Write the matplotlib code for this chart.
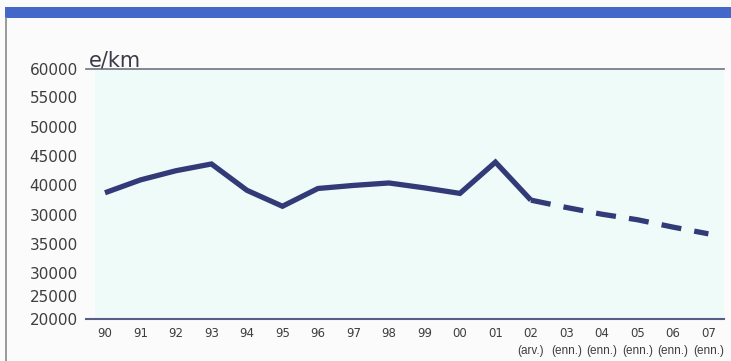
import matplotlib
matplotlib.use("Agg")
import matplotlib.pyplot as plt
from matplotlib.patches import Rectangle
from matplotlib.lines import Line2D
from matplotlib.transforms import blended_transform_factory

# Years and per-km values (e/km); 2002 is preliminary, 2003-2007 are forecasts
years = ["90", "91", "92", "93", "94", "95", "96", "97", "98", "99", "00", "01",
         "02", "03", "04", "05", "06", "07"]
notes = ["", "", "", "", "", "", "", "", "", "", "", "",
         "(arv.)", "(enn.)", "(enn.)", "(enn.)", "(enn.)", "(enn.)"]
actual = [40600, 42700, 44200, 45300, 41000, 38400, 41300, 41800, 42200, 41400,
          40500, 45600, 39400]
forecast = [39400, 38200, 37100, 36200, 35000, 33900]

ytick_labels = ["60000", "55000", "50000", "45000", "40000", "30000", "35000",
                "30000", "25000", "20000"]
ytick_pos = [60800, 56200, 51400, 46600, 41800, 37000, 32300, 27500, 23700, 20000]

W, H = 731, 361
fig = plt.figure(figsize=(W / 100, H / 100), dpi=100, facecolor="#fbfbfb")

def fx(px):
    return px / W

def fy(py):
    return 1 - py / H

# header band and frame
fig.add_artist(Rectangle((fx(5), fy(18)), fx(726), 11 / H, transform=fig.transFigure,
                         facecolor="#4468c9", edgecolor="none"))
fig.add_artist(Line2D([fx(6), fx(6)], [fy(18), 0], transform=fig.transFigure,
                      color="#8a8a8a", lw=1.2))

ax = fig.add_axes([fx(86), fy(319), fx(724) - fx(86), (319 - 69) / H])
ax.set_facecolor("none")
x_all = list(range(len(years)))
ax.set_xlim(-0.535, 17.44)
ax.set_ylim(20000, 60000)

# light tinted plotting area
ax.axvspan(-0.28, 17.44, color="#effbf8", zorder=0, lw=0)

n_act = len(actual)
ax.plot(x_all[:n_act], actual, color="#323a78", lw=3.8,
        solid_joinstyle="miter", solid_capstyle="butt", zorder=3)
ax.plot(x_all[n_act - 1:], forecast, color="#323a78", lw=3.8,
        linestyle=(0, (3.8, 2.5)), dash_capstyle="butt", zorder=3)

for s in ["left", "right"]:
    ax.spines[s].set_visible(False)
ax.spines["bottom"].set_color("#5a5c88")
ax.spines["bottom"].set_linewidth(1.5)
ax.spines["top"].set_color("#6f7482")
ax.spines["top"].set_linewidth(1.2)

ax.set_yticks(ytick_pos)
ax.set_yticklabels(ytick_labels, fontsize=11, color="#3e3e3e")
ax.tick_params(axis="y", length=0, pad=6)

ax.set_xticks(x_all)
ax.set_xticklabels(years, fontsize=8.5, color="#3e3e3e")
ax.tick_params(axis="x", length=0, pad=6)

# status notes under the year labels
trans = blended_transform_factory(ax.transData, ax.transAxes)
for x, n in zip(x_all, notes):
    if n:
        ax.text(x, -0.128, n, transform=trans, ha="center", va="center",
                fontsize=8.5, family=["Liberation Sans", "DejaVu Sans"],
                color="#3e3e3e", clip_on=False)

fig.text(fx(89), fy(66), "e/km", fontsize=15, color="#3a3a48", va="baseline", ha="left")

fig.savefig("out.png", dpi=100, facecolor=fig.get_facecolor())
